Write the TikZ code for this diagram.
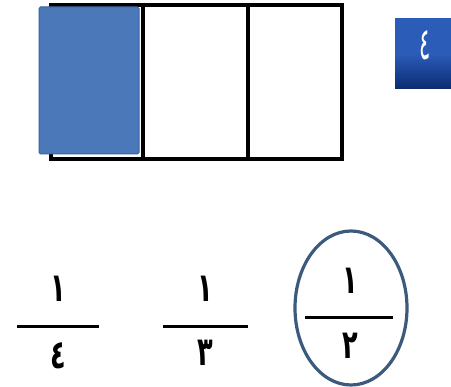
\documentclass[tikz,border=0pt]{standalone}
\usepackage{fontspec}
\newfontfamily\arabicfont[Script=Arabic]{DejaVu Sans}
\definecolor{fillblue}{HTML}{4A78B8}
\definecolor{edgeblue}{HTML}{3A64A0}
\definecolor{badgetop}{HTML}{2A5CB8}
\definecolor{badgebot}{HTML}{0B2A70}
\definecolor{ringblue}{HTML}{3C5A7C}
\tikzset{
  frame/.style={draw=black, line width=3.2pt},
  bar/.style={draw=black, line width=3pt},
  digit/.style={font=\arabicfont\bfseries\fontsize{32}{36}\selectfont, inner sep=0pt, text=black, xscale=0.8, yscale=1.25},
}
\begin{document}
\begin{tikzpicture}[x=1pt,y=-1pt]
\useasboundingbox (0,0) rectangle (451,387);
% fraction bar
\draw[frame] (51,5) rectangle (342,159);
\draw[frame] (143,5) -- (143,159);
\draw[frame] (248,5) -- (248,159);
\fill[fillblue, draw=edgeblue, line width=1pt, rounded corners=1.5pt] (39,7) rectangle (139,154);
% badge
\shade[top color=badgetop, bottom color=badgebot, middle color=badgetop] (395,19) rectangle (451,89);
\node[font=\arabicfont\fontsize{30}{32}\selectfont, text=white, inner sep=0pt, xscale=0.7, yscale=1.5] (badge) at (425,45) {٤};
% fractions
\node[digit] (n1) at (58,289) {١};
\draw[bar] (17,327) -- (99,327);
\node[digit] (d1) at (58,356) {٤};
\node[digit] (n2) at (205,289) {١};
\draw[bar] (163,327) -- (248,327);
\node[digit] (d2) at (205,353) {٣};
\node[digit] (n3) at (350,281) {١};
\draw[bar] (305,318) -- (393,318);
\node[digit] (d3) at (350,346) {٢};
\draw[ringblue, line width=3.2pt] (351,308) ellipse (56 and 77);
\end{tikzpicture}
\end{document}
